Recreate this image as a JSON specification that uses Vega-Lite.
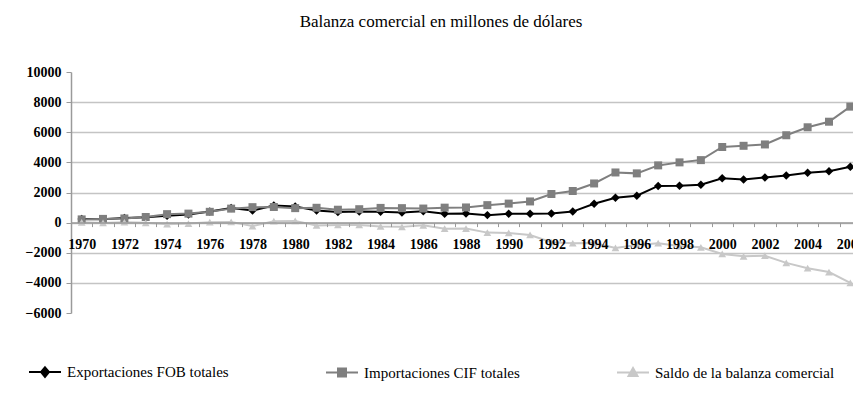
{
  "$schema": "https://vega.github.io/schema/vega-lite/v6.json",
  "autosize": {"type": "none"},
  "padding": {"left": 71, "top": 72, "right": 0, "bottom": 87},
  "width": 782,
  "height": 241,
  "background": "#ffffff",
  "title": {
    "text": "Balanza comercial en millones de dólares",
    "font": "Liberation Serif, DejaVu Serif, serif",
    "fontSize": 17,
    "fontWeight": "normal",
    "color": "#000000",
    "anchor": "middle",
    "dx": -21,
    "offset": 34
  },
  "config": {
    "view": {"stroke": null}
  },
  "data": {
    "values": [
      {"year": 1970, "Exportaciones FOB totales": 236, "Importaciones CIF totales": 214, "Saldo de la balanza comercial": 22},
      {"year": 1971, "Exportaciones FOB totales": 228, "Importaciones CIF totales": 248, "Saldo de la balanza comercial": -20},
      {"year": 1972, "Exportaciones FOB totales": 302, "Importaciones CIF totales": 278, "Saldo de la balanza comercial": 24},
      {"year": 1973, "Exportaciones FOB totales": 358, "Importaciones CIF totales": 374, "Saldo de la balanza comercial": -16},
      {"year": 1974, "Exportaciones FOB totales": 463, "Importaciones CIF totales": 563, "Saldo de la balanza comercial": -100},
      {"year": 1975, "Exportaciones FOB totales": 533, "Importaciones CIF totales": 598, "Saldo de la balanza comercial": -65},
      {"year": 1976, "Exportaciones FOB totales": 745, "Importaciones CIF totales": 717, "Saldo de la balanza comercial": 28},
      {"year": 1977, "Exportaciones FOB totales": 973, "Importaciones CIF totales": 929, "Saldo de la balanza comercial": 44},
      {"year": 1978, "Exportaciones FOB totales": 801, "Importaciones CIF totales": 1027, "Saldo de la balanza comercial": -226},
      {"year": 1979, "Exportaciones FOB totales": 1132, "Importaciones CIF totales": 1039, "Saldo de la balanza comercial": 93},
      {"year": 1980, "Exportaciones FOB totales": 1075, "Importaciones CIF totales": 962, "Saldo de la balanza comercial": 113},
      {"year": 1981, "Exportaciones FOB totales": 798, "Importaciones CIF totales": 985, "Saldo de la balanza comercial": -187},
      {"year": 1982, "Exportaciones FOB totales": 700, "Importaciones CIF totales": 857, "Saldo de la balanza comercial": -157},
      {"year": 1983, "Exportaciones FOB totales": 735, "Importaciones CIF totales": 891, "Saldo de la balanza comercial": -156},
      {"year": 1984, "Exportaciones FOB totales": 726, "Importaciones CIF totales": 977, "Saldo de la balanza comercial": -251},
      {"year": 1985, "Exportaciones FOB totales": 679, "Importaciones CIF totales": 961, "Saldo de la balanza comercial": -282},
      {"year": 1986, "Exportaciones FOB totales": 755, "Importaciones CIF totales": 935, "Saldo de la balanza comercial": -180},
      {"year": 1987, "Exportaciones FOB totales": 590, "Importaciones CIF totales": 994, "Saldo de la balanza comercial": -404},
      {"year": 1988, "Exportaciones FOB totales": 611, "Importaciones CIF totales": 1007, "Saldo de la balanza comercial": -396},
      {"year": 1989, "Exportaciones FOB totales": 498, "Importaciones CIF totales": 1161, "Saldo de la balanza comercial": -663},
      {"year": 1990, "Exportaciones FOB totales": 582, "Importaciones CIF totales": 1263, "Saldo de la balanza comercial": -681},
      {"year": 1991, "Exportaciones FOB totales": 588, "Importaciones CIF totales": 1406, "Saldo de la balanza comercial": -818},
      {"year": 1992, "Exportaciones FOB totales": 598, "Importaciones CIF totales": 1900, "Saldo de la balanza comercial": -1302},
      {"year": 1993, "Exportaciones FOB totales": 732, "Importaciones CIF totales": 2100, "Saldo de la balanza comercial": -1368},
      {"year": 1994, "Exportaciones FOB totales": 1249, "Importaciones CIF totales": 2600, "Saldo de la balanza comercial": -1351},
      {"year": 1995, "Exportaciones FOB totales": 1652, "Importaciones CIF totales": 3330, "Saldo de la balanza comercial": -1678},
      {"year": 1996, "Exportaciones FOB totales": 1788, "Importaciones CIF totales": 3270, "Saldo de la balanza comercial": -1482},
      {"year": 1997, "Exportaciones FOB totales": 2437, "Importaciones CIF totales": 3800, "Saldo de la balanza comercial": -1363},
      {"year": 1998, "Exportaciones FOB totales": 2441, "Importaciones CIF totales": 4000, "Saldo de la balanza comercial": -1559},
      {"year": 1999, "Exportaciones FOB totales": 2510, "Importaciones CIF totales": 4150, "Saldo de la balanza comercial": -1640},
      {"year": 2000, "Exportaciones FOB totales": 2941, "Importaciones CIF totales": 5020, "Saldo de la balanza comercial": -2079},
      {"year": 2001, "Exportaciones FOB totales": 2864, "Importaciones CIF totales": 5100, "Saldo de la balanza comercial": -2236},
      {"year": 2002, "Exportaciones FOB totales": 2995, "Importaciones CIF totales": 5190, "Saldo de la balanza comercial": -2195},
      {"year": 2003, "Exportaciones FOB totales": 3128, "Importaciones CIF totales": 5800, "Saldo de la balanza comercial": -2672},
      {"year": 2004, "Exportaciones FOB totales": 3305, "Importaciones CIF totales": 6330, "Saldo de la balanza comercial": -3025},
      {"year": 2005, "Exportaciones FOB totales": 3418, "Importaciones CIF totales": 6700, "Saldo de la balanza comercial": -3282},
      {"year": 2006, "Exportaciones FOB totales": 3705, "Importaciones CIF totales": 7700, "Saldo de la balanza comercial": -3995}
    ]
  },
  "transform": [
    {"fold": ["Exportaciones FOB totales", "Importaciones CIF totales", "Saldo de la balanza comercial"], "as": ["serie", "value"]}
  ],
  "encoding": {
    "x": {
      "field": "year",
      "type": "ordinal",
      "scale": {"type": "band", "paddingInner": 0, "paddingOuter": 0, "range": [0, 790]},
      "axis": {
        "title": null,
        "offset": -90.4,
        "labelAngle": 0,
        "labelFont": "Liberation Serif, DejaVu Serif, serif",
        "labelFontSize": 14,
        "labelFontWeight": "bold",
        "labelColor": "#000000",
        "labelExpr": "parseInt(datum.label) % 2 == 0 ? datum.label : ''",
        "labelOverlap": false,
        "tickBand": "extent",
        "tickSize": 4,
        "tickColor": "#9a9a9a",
        "domainColor": "#9a9a9a",
        "domainWidth": 1.5,
        "labelPadding": 11,
        "grid": false,
        "zindex": 1
      }
    },
    "y": {
      "field": "value",
      "type": "quantitative",
      "scale": {"domain": [-6000, 10000], "nice": false, "zero": false},
      "axis": {
        "title": null,
        "format": "d",
        "labelFont": "Liberation Serif, DejaVu Serif, serif",
        "labelFontSize": 14,
        "labelFontWeight": "bold",
        "labelColor": "#000000",
        "values": [-6000, -4000, -2000, 0, 2000, 4000, 6000, 8000, 10000],
        "tickSize": 5,
        "tickColor": "#9a9a9a",
        "domainColor": "#9a9a9a",
        "domainWidth": 1.5,
        "labelPadding": 5,
        "gridColor": "#c4c4c4",
        "gridWidth": 1.5,
        "gridOpacity": {"condition": {"test": "datum.value === 10000 || datum.value === -6000", "value": 0}, "value": 1}
      }
    },
    "color": {
      "field": "serie",
      "type": "nominal",
      "scale": {
        "domain": ["Exportaciones FOB totales", "Importaciones CIF totales", "Saldo de la balanza comercial"],
        "range": ["#000000", "#7f7f7f", "#c8c8c8"]
      },
      "legend": {
        "title": null,
        "orient": "none",
        "direction": "horizontal",
        "legendX": -43,
        "legendY": 283,
        "columnPadding": 93,
        "labelFont": "Liberation Serif, DejaVu Serif, serif",
        "labelFontSize": 15,
        "labelColor": "#000000",
        "labelLimit": 0,
        "labelOffset": 5,
        "symbolSize": 1024,
        "symbolStrokeWidth": 2,
        "encode": {
          "symbols": {
            "update": {
              "shape": {"signal": "datum.value == 'Exportaciones FOB totales' ? 'M-1,0H1M0,-0.3L0.25,0L0,0.3L-0.25,0Z' : datum.value == 'Importaciones CIF totales' ? 'M-1,0H1M-0.25,-0.25H0.25V0.25H-0.25Z' : 'M-1,0H1M0,-0.28L0.28,0.22H-0.28Z'"},
              "fill": {"scale": "color", "field": "value"},
              "stroke": {"scale": "color", "field": "value"},
              "strokeWidth": {"value": 2},
              "size": {"value": 1024},
              "opacity": {"value": 1}
            }
          }
        }
      }
    }
  },
  "layer": [
    {"mark": {"type": "line", "strokeWidth": 2}},
    {
      "transform": [{"filter": "datum.serie == 'Exportaciones FOB totales'"}],
      "mark": {"type": "point", "filled": true, "opacity": 1, "size": 72, "shape": "diamond"}
    },
    {
      "transform": [{"filter": "datum.serie == 'Importaciones CIF totales'"}],
      "mark": {"type": "point", "filled": true, "opacity": 1, "size": 64, "shape": "square"}
    },
    {
      "transform": [{"filter": "datum.serie == 'Saldo de la balanza comercial'"}],
      "mark": {"type": "point", "filled": true, "opacity": 1, "size": 60, "shape": "triangle-up"}
    }
  ]
}
